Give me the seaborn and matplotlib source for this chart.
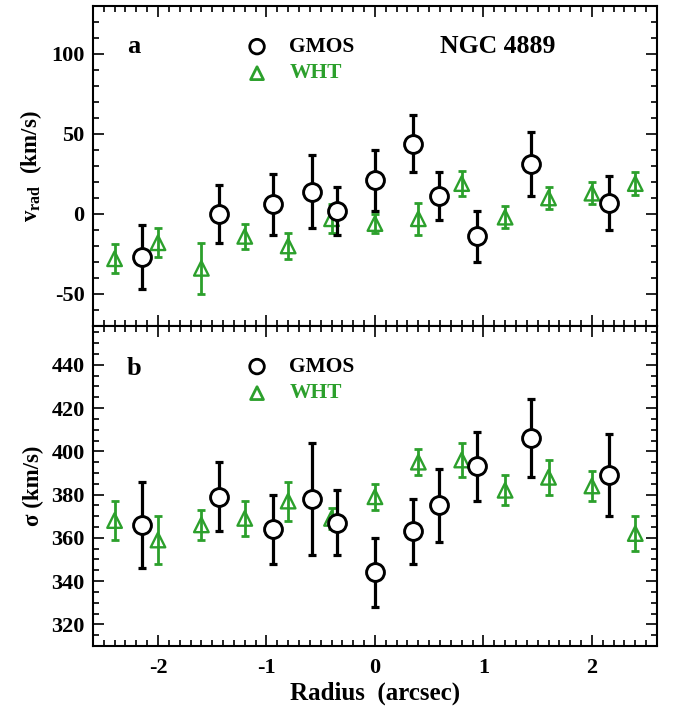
import matplotlib
matplotlib.use("Agg")
import pandas as pd
import seaborn as sns
import matplotlib.pyplot as plt
from matplotlib.ticker import MultipleLocator

# GMOS long-slit points
gmos_r = [-2.15, -1.44, -0.94, -0.58, -0.35, 0.0, 0.35, 0.59, 0.94, 1.44, 2.16]
gmos_v = [-27, 0, 6, 14, 2, 21, 44, 11, -14, 31, 7]
gmos_v_err = [20, 18, 19, 23, 15, 19, 18, 15, 16, 20, 17]
gmos_sig = [366, 379, 364, 378, 367, 344, 363, 375, 393, 406, 389]
gmos_sig_err = [20, 16, 16, 26, 15, 16, 15, 17, 16, 18, 19]

# WHT points
wht_r = [-2.4, -2.0, -1.6, -1.2, -0.8, -0.4, 0.0, 0.4, 0.8, 1.2, 1.6, 2.0, 2.4]
wht_v = [-28, -18, -34, -14, -20, -3, -6, -3, 19, -2, 10, 13, 19]
wht_v_err = [9, 9, 16, 8, 8, 9, 6, 10, 8, 7, 7, 7, 7]
wht_sig = [368, 359, 366, 369, 377, 369, 379, 395, 396, 382, 388, 384, 362]
wht_sig_err = [9, 11, 7, 8, 9, 5, 6, 6, 8, 7, 8, 7, 8]

GREEN = "#2ca02c"

gmos = pd.DataFrame({"r": gmos_r, "v": gmos_v, "ve": gmos_v_err,
                     "s": gmos_sig, "se": gmos_sig_err})
wht = pd.DataFrame({"r": wht_r, "v": wht_v, "ve": wht_v_err,
                    "s": wht_sig, "se": wht_sig_err})

sns.set_style("ticks")
plt.rcParams["font.family"] = ["Liberation Serif", "DejaVu Serif"]
plt.rcParams["font.weight"] = "bold"
plt.rcParams["axes.labelweight"] = "bold"
plt.rcParams["mathtext.fontset"] = "stix"
plt.rcParams["axes.unicode_minus"] = False
for k in ["text.color", "axes.labelcolor", "xtick.color", "ytick.color", "axes.edgecolor"]:
    plt.rcParams[k] = "black"

fig = plt.figure(figsize=(6.78, 7.07), dpi=100)
ax1 = fig.add_axes([0.137, 0.539, 0.832, 0.4525])
ax2 = fig.add_axes([0.137, 0.0863, 0.832, 0.4527])


def panel(ax, col, ecol):
    ax.errorbar(wht["r"], wht[col], yerr=wht[ecol], fmt="none", ecolor=GREEN,
                elinewidth=2.0, capsize=3, capthick=2.0, zorder=2)
    sns.scatterplot(data=wht, x="r", y=col, ax=ax, marker="^", s=110,
                    facecolor="none", edgecolor=GREEN, linewidth=1.7, zorder=3)
    ax.errorbar(gmos["r"], gmos[col], yerr=gmos[ecol], fmt="none", ecolor="black",
                elinewidth=2.3, capsize=3, capthick=2.3, zorder=4)
    sns.scatterplot(data=gmos, x="r", y=col, ax=ax, marker="o", s=165,
                    facecolor="white", edgecolor="black", linewidth=2.1, zorder=5)

    ax.set_xlim(-2.6, 2.6)
    ax.xaxis.set_major_locator(MultipleLocator(1))
    ax.xaxis.set_minor_locator(MultipleLocator(0.1))
    ax.tick_params(which="both", direction="in", top=True, right=True,
                   width=1.2, labelsize=16)
    ax.tick_params(which="major", length=8)
    ax.tick_params(which="minor", length=4)
    ax.tick_params(axis="x", pad=9)
    ax.tick_params(axis="y", pad=6)
    for sp in ax.spines.values():
        sp.set_linewidth(1.5)
    ax.yaxis.set_label_coords(-0.087, 0.5)

    # hand-made legend
    ax.scatter([0.291], [0.873], transform=ax.transAxes, marker="o", s=110,
               facecolor="none", edgecolor="black", linewidth=2.0, clip_on=False)
    ax.text(0.348, 0.873, "GMOS", transform=ax.transAxes, va="center",
            fontsize=15.5, fontweight="bold", color="black")
    ax.scatter([0.291], [0.79], transform=ax.transAxes, marker="^", s=85,
               facecolor="none", edgecolor=GREEN, linewidth=2.0, clip_on=False)
    ax.text(0.348, 0.79, "WHT", transform=ax.transAxes, va="center",
            fontsize=15.5, fontweight="bold", color=GREEN)


panel(ax1, "v", "ve")
ax1.set_ylim(-70, 130)
ax1.yaxis.set_major_locator(MultipleLocator(50))
ax1.yaxis.set_minor_locator(MultipleLocator(10))
ax1.set_xticklabels([])
ax1.set_xlabel("")
ax1.set_ylabel(r"v$_{\mathregular{rad}}$  (km/s)", fontsize=16.5)
ax1.text(0.06, 0.872, "a", transform=ax1.transAxes, va="center",
         fontsize=19, fontweight="bold")
ax1.text(0.718, 0.873, "NGC 4889", transform=ax1.transAxes, va="center",
         ha="center", fontsize=18.5, fontweight="bold")

panel(ax2, "s", "se")
ax2.set_ylim(310, 458)
ax2.yaxis.set_major_locator(MultipleLocator(20))
ax2.yaxis.set_minor_locator(MultipleLocator(5))
ax2.set_ylabel(r"σ (km/s)", fontsize=16.5)
ax2.set_xlabel("Radius  (arcsec)", fontsize=18, labelpad=2)
ax2.text(0.06, 0.868, "b", transform=ax2.transAxes, va="center",
         fontsize=19, fontweight="bold")

fig.savefig("out.png", dpi=100)
